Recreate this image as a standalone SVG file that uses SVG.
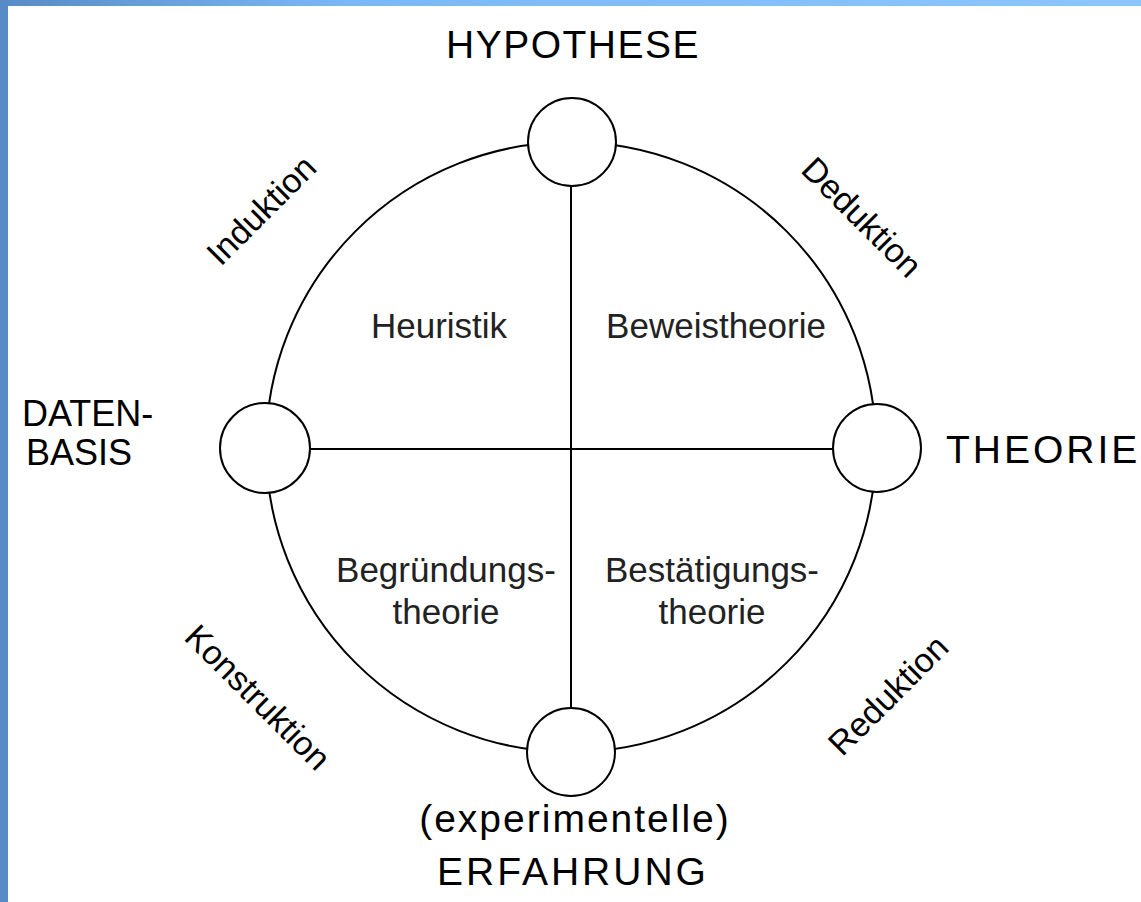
<svg xmlns="http://www.w3.org/2000/svg" width="1141" height="902" viewBox="0 0 1141 902">
<defs>
<linearGradient id="topbar" x1="0" y1="0" x2="1" y2="0">
<stop offset="0" stop-color="#578bc6"/>
<stop offset="0.3" stop-color="#7ab8f5"/>
<stop offset="1" stop-color="#8cc6ff"/>
</linearGradient>
<style>
.ln{stroke:#000;stroke-width:2;fill:none}
.node{stroke:#000;stroke-width:2;fill:#fff}
.big{font-family:"Liberation Sans",Arial,sans-serif;font-size:39px;fill:#000;letter-spacing:1.5px}
.mid{font-family:"Liberation Sans",Arial,sans-serif;font-size:35px;fill:#222;text-anchor:middle}
.rot{font-family:"Liberation Sans",Arial,sans-serif;font-size:34px;fill:#000;text-anchor:middle}
</style>
</defs>
<rect x="0" y="0" width="1141" height="902" fill="#fff"/>
<rect x="0" y="0" width="1141" height="6" fill="url(#topbar)"/>
<rect x="0" y="0" width="8" height="902" fill="#578bc6"/>
<g id="connectors">
<circle class="ln" cx="571" cy="447" r="305"/>
<line class="ln" x1="571" y1="186" x2="571" y2="708"/>
<line class="ln" x1="310" y1="449" x2="833" y2="449"/>
</g>
<g id="hypothese">
<circle class="node" cx="572" cy="142" r="44"/>
<text class="big" x="573" y="58" text-anchor="middle">HYPOTHESE</text>
</g>
<g id="datenbasis">
<circle class="node" cx="265" cy="448" r="45"/>
<text class="big" x="22" y="426" style="font-size:36px;letter-spacing:0">DATEN-</text>
<text class="big" x="26" y="465" style="font-size:36px;letter-spacing:0">BASIS</text>
</g>
<g id="theorie">
<circle class="node" cx="877" cy="448" r="44"/>
<text class="big" x="946" y="463" style="letter-spacing:3px">THEORIE</text>
</g>
<g id="erfahrung">
<circle class="node" cx="571" cy="752" r="44"/>
<text class="big" x="575" y="832" text-anchor="middle" style="letter-spacing:2px">(experimentelle)</text>
<text class="big" x="573" y="885" text-anchor="middle" style="letter-spacing:3px">ERFAHRUNG</text>
</g>
<g id="quadrants">
<text class="mid" x="439" y="338">Heuristik</text>
<text class="mid" x="716" y="338">Beweistheorie</text>
<text class="mid" x="446" y="582">Begründungs-</text>
<text class="mid" x="446" y="624">theorie</text>
<text class="mid" x="712" y="582">Bestätigungs-</text>
<text class="mid" x="712" y="624">theorie</text>
</g>
<g id="arcs">
<text class="rot" transform="translate(261,210) rotate(-45)" x="0" y="12">Induktion</text>
<text class="rot" transform="translate(862,217) rotate(45)" x="0" y="12">Deduktion</text>
<text class="rot" transform="translate(258,697) rotate(45)" x="0" y="12">Konstruktion</text>
<text class="rot" transform="translate(888,695) rotate(-45)" x="0" y="12">Reduktion</text>
</g>
</svg>
